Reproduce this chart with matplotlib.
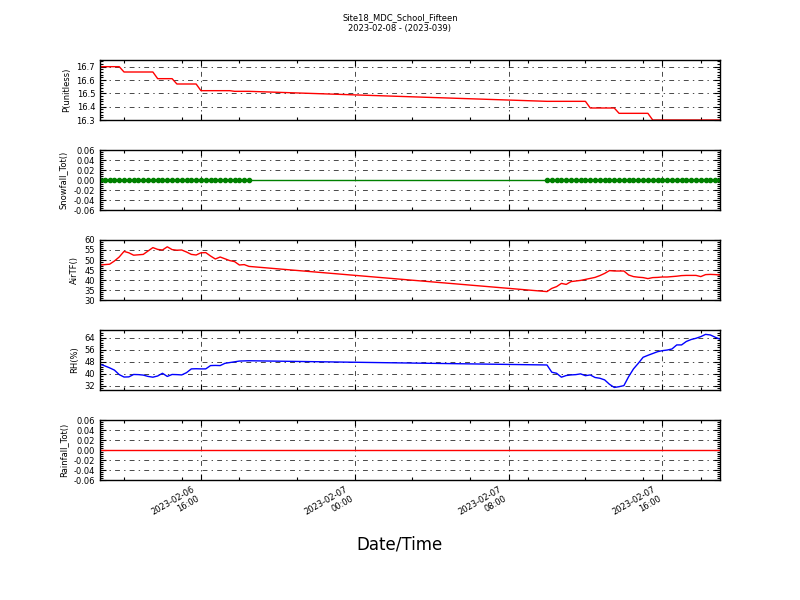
"""
Site18_MDC_School_Fifteen - fem paneler med stasjonsdata mot tid.
"""

import numpy as np
import pandas as pd
import matplotlib
matplotlib.use("Agg")
import matplotlib.pyplot as plt
import matplotlib.dates as mdates
from matplotlib.ticker import AutoMinorLocator, MultipleLocator

plt.rcParams.update({
    'font.family': 'DejaVu Sans',
    'font.size': 6,
})

# ---------------------------------------------------------------------------
# Data (15-min intervall, to segmenter med hull mellom)
# ---------------------------------------------------------------------------
times_seg1 = pd.date_range('2023-02-06 10:45', '2023-02-06 18:30', freq='15min')
times_seg2 = pd.date_range('2023-02-07 10:00', '2023-02-07 19:00', freq='15min')

p_seg1 = [16.70, 16.70, 16.70, 16.70, 16.70,
          16.66, 16.66, 16.66, 16.66, 16.66, 16.66, 16.66,
          16.61, 16.61, 16.61, 16.61,
          16.57, 16.57, 16.57, 16.57, 16.57,
          16.52, 16.52, 16.52, 16.52, 16.52, 16.52, 16.52,
          16.515, 16.515, 16.515, 16.515]
p_seg2 = [16.44, 16.44, 16.44, 16.44, 16.44, 16.44, 16.44, 16.44, 16.44,
          16.39, 16.39, 16.39, 16.39, 16.39, 16.39,
          16.35, 16.35, 16.35, 16.35, 16.35, 16.35, 16.35,
          16.30, 16.30, 16.30, 16.30, 16.30, 16.30, 16.30, 16.30,
          16.30, 16.30, 16.30, 16.30, 16.30, 16.30, 16.30]

airt_seg1 = [47.5, 47.7, 47.9, 49.5, 51.5, 54.3, 53.6, 52.4, 52.6, 52.8,
             54.5, 56.2, 55.3, 55.0, 56.6, 55.2, 54.9, 55.0, 54.0, 52.8,
             52.5, 53.6, 53.7, 52.0, 50.5, 51.5, 50.6, 49.7, 49.2, 47.5,
             47.7, 46.8]
airt_seg2 = [34.2, 35.8, 36.7, 38.3, 37.8, 39.2, 39.5, 39.8, 40.3, 40.8,
             41.3, 42.2, 43.3, 44.7, 44.5, 44.5, 44.5, 42.5, 41.7, 41.4,
             41.2, 40.7, 41.2, 41.3, 41.5, 41.5, 41.7, 41.9, 42.2, 42.3,
             42.3, 42.3, 41.7, 42.7, 42.8, 42.7, 42.5]

rh_seg1 = [46.4, 45.3, 44.0, 42.5, 39.5, 37.9, 38.0, 39.6, 39.5, 39.2,
           38.3, 37.8, 38.6, 40.4, 38.3, 39.6, 39.5, 39.3, 40.8, 43.3,
           43.4, 43.3, 43.3, 45.5, 45.6, 45.5, 47.0, 47.5, 48.0, 48.5,
           48.6, 48.7]
rh_seg2 = [45.9, 41.1, 40.4, 37.8, 38.9, 39.3, 39.5, 40.0, 38.8, 39.3,
           37.6, 37.1, 36.0, 33.1, 31.0, 31.5, 32.2, 38.2, 43.3, 47.0,
           51.0, 52.3, 53.5, 54.7, 55.4, 55.8, 56.5, 59.2, 59.2, 61.5,
           62.8, 63.6, 64.7, 66.2, 65.8, 64.3, 63.0]

times = times_seg1.append(times_seg2)
pressure = p_seg1 + p_seg2
airt = airt_seg1 + airt_seg2
rh = rh_seg1 + rh_seg2
snowfall_tot = [0.0] * len(times)
rainfall_tot = [0.0] * len(times)

GRID_KW = dict(color='k', lw=0.5, dashes=(7, 6, 2, 6))


def style_axis(ax, ylabel, ylim, ystep):
    ax.set_ylabel(ylabel, fontsize=6)
    ax.set_ylim(*ylim)
    ax.yaxis.set_major_locator(MultipleLocator(ystep))
    ax.yaxis.set_minor_locator(AutoMinorLocator(5))
    ax.tick_params(which='both', direction='in', top=True, right=True,
                   labelsize=6)
    ax.tick_params(which='major', length=4, width=0.8)
    ax.tick_params(which='minor', length=2.5, width=0.8)
    ax.grid(True, which='major', **GRID_KW)
    for sp in ax.spines.values():
        sp.set_linewidth(1.0)


fig, axes = plt.subplots(5, 1, figsize=(8, 6), dpi=100, sharex=True)
fig.subplots_adjust(left=0.125, right=0.9, top=0.9, bottom=0.2, hspace=0.5)
fig.patch.set_facecolor('white')

ax_p, ax_s, ax_t, ax_rh, ax_r = axes

ax_p.plot(times, pressure, color='r', lw=1)
style_axis(ax_p, 'P(unitless)', (16.3, 16.75), 0.1)
ax_p.yaxis.set_major_formatter(plt.FormatStrFormatter('%.1f'))

ax_s.plot(times, snowfall_tot, color='g', lw=1, marker='o', ms=3,
          mec='g', mfc='g')
style_axis(ax_s, 'Snowfall_Tot()', (-0.06, 0.06), 0.02)
ax_s.yaxis.set_major_formatter(plt.FormatStrFormatter('%.2f'))

ax_t.plot(times, airt, color='r', lw=1)
style_axis(ax_t, 'AirTF()', (30, 60), 5)

ax_rh.plot(times, rh, color='b', lw=1)
style_axis(ax_rh, 'RH(%)', (29.3, 69.1), 8)

ax_r.plot(times, rainfall_tot, color='r', lw=1)
style_axis(ax_r, 'Rainfall_Tot()', (-0.06, 0.06), 0.02)
ax_r.yaxis.set_major_formatter(plt.FormatStrFormatter('%.2f'))

ax_r.set_xlim(times[0], times[-1])
ax_r.xaxis.set_major_locator(mdates.HourLocator(byhour=[0, 8, 16]))
ax_r.xaxis.set_minor_locator(mdates.HourLocator(byhour=range(0, 24, 3)))
ax_r.xaxis.set_major_formatter(mdates.DateFormatter('%Y-%m-%d\n%H:%M'))
for lbl in ax_r.get_xticklabels():
    lbl.set_rotation(30)
    lbl.set_ha('right')

fig.suptitle('Site18_MDC_School_Fifteen\n2023-02-08 - (2023-039)',
             fontsize=6, y=0.978)
fig.text(0.5, 0.093, 'Date/Time', ha='center', va='center', fontsize=12)

plt.savefig('out.png', dpi=100, facecolor='white')
plt.close()
